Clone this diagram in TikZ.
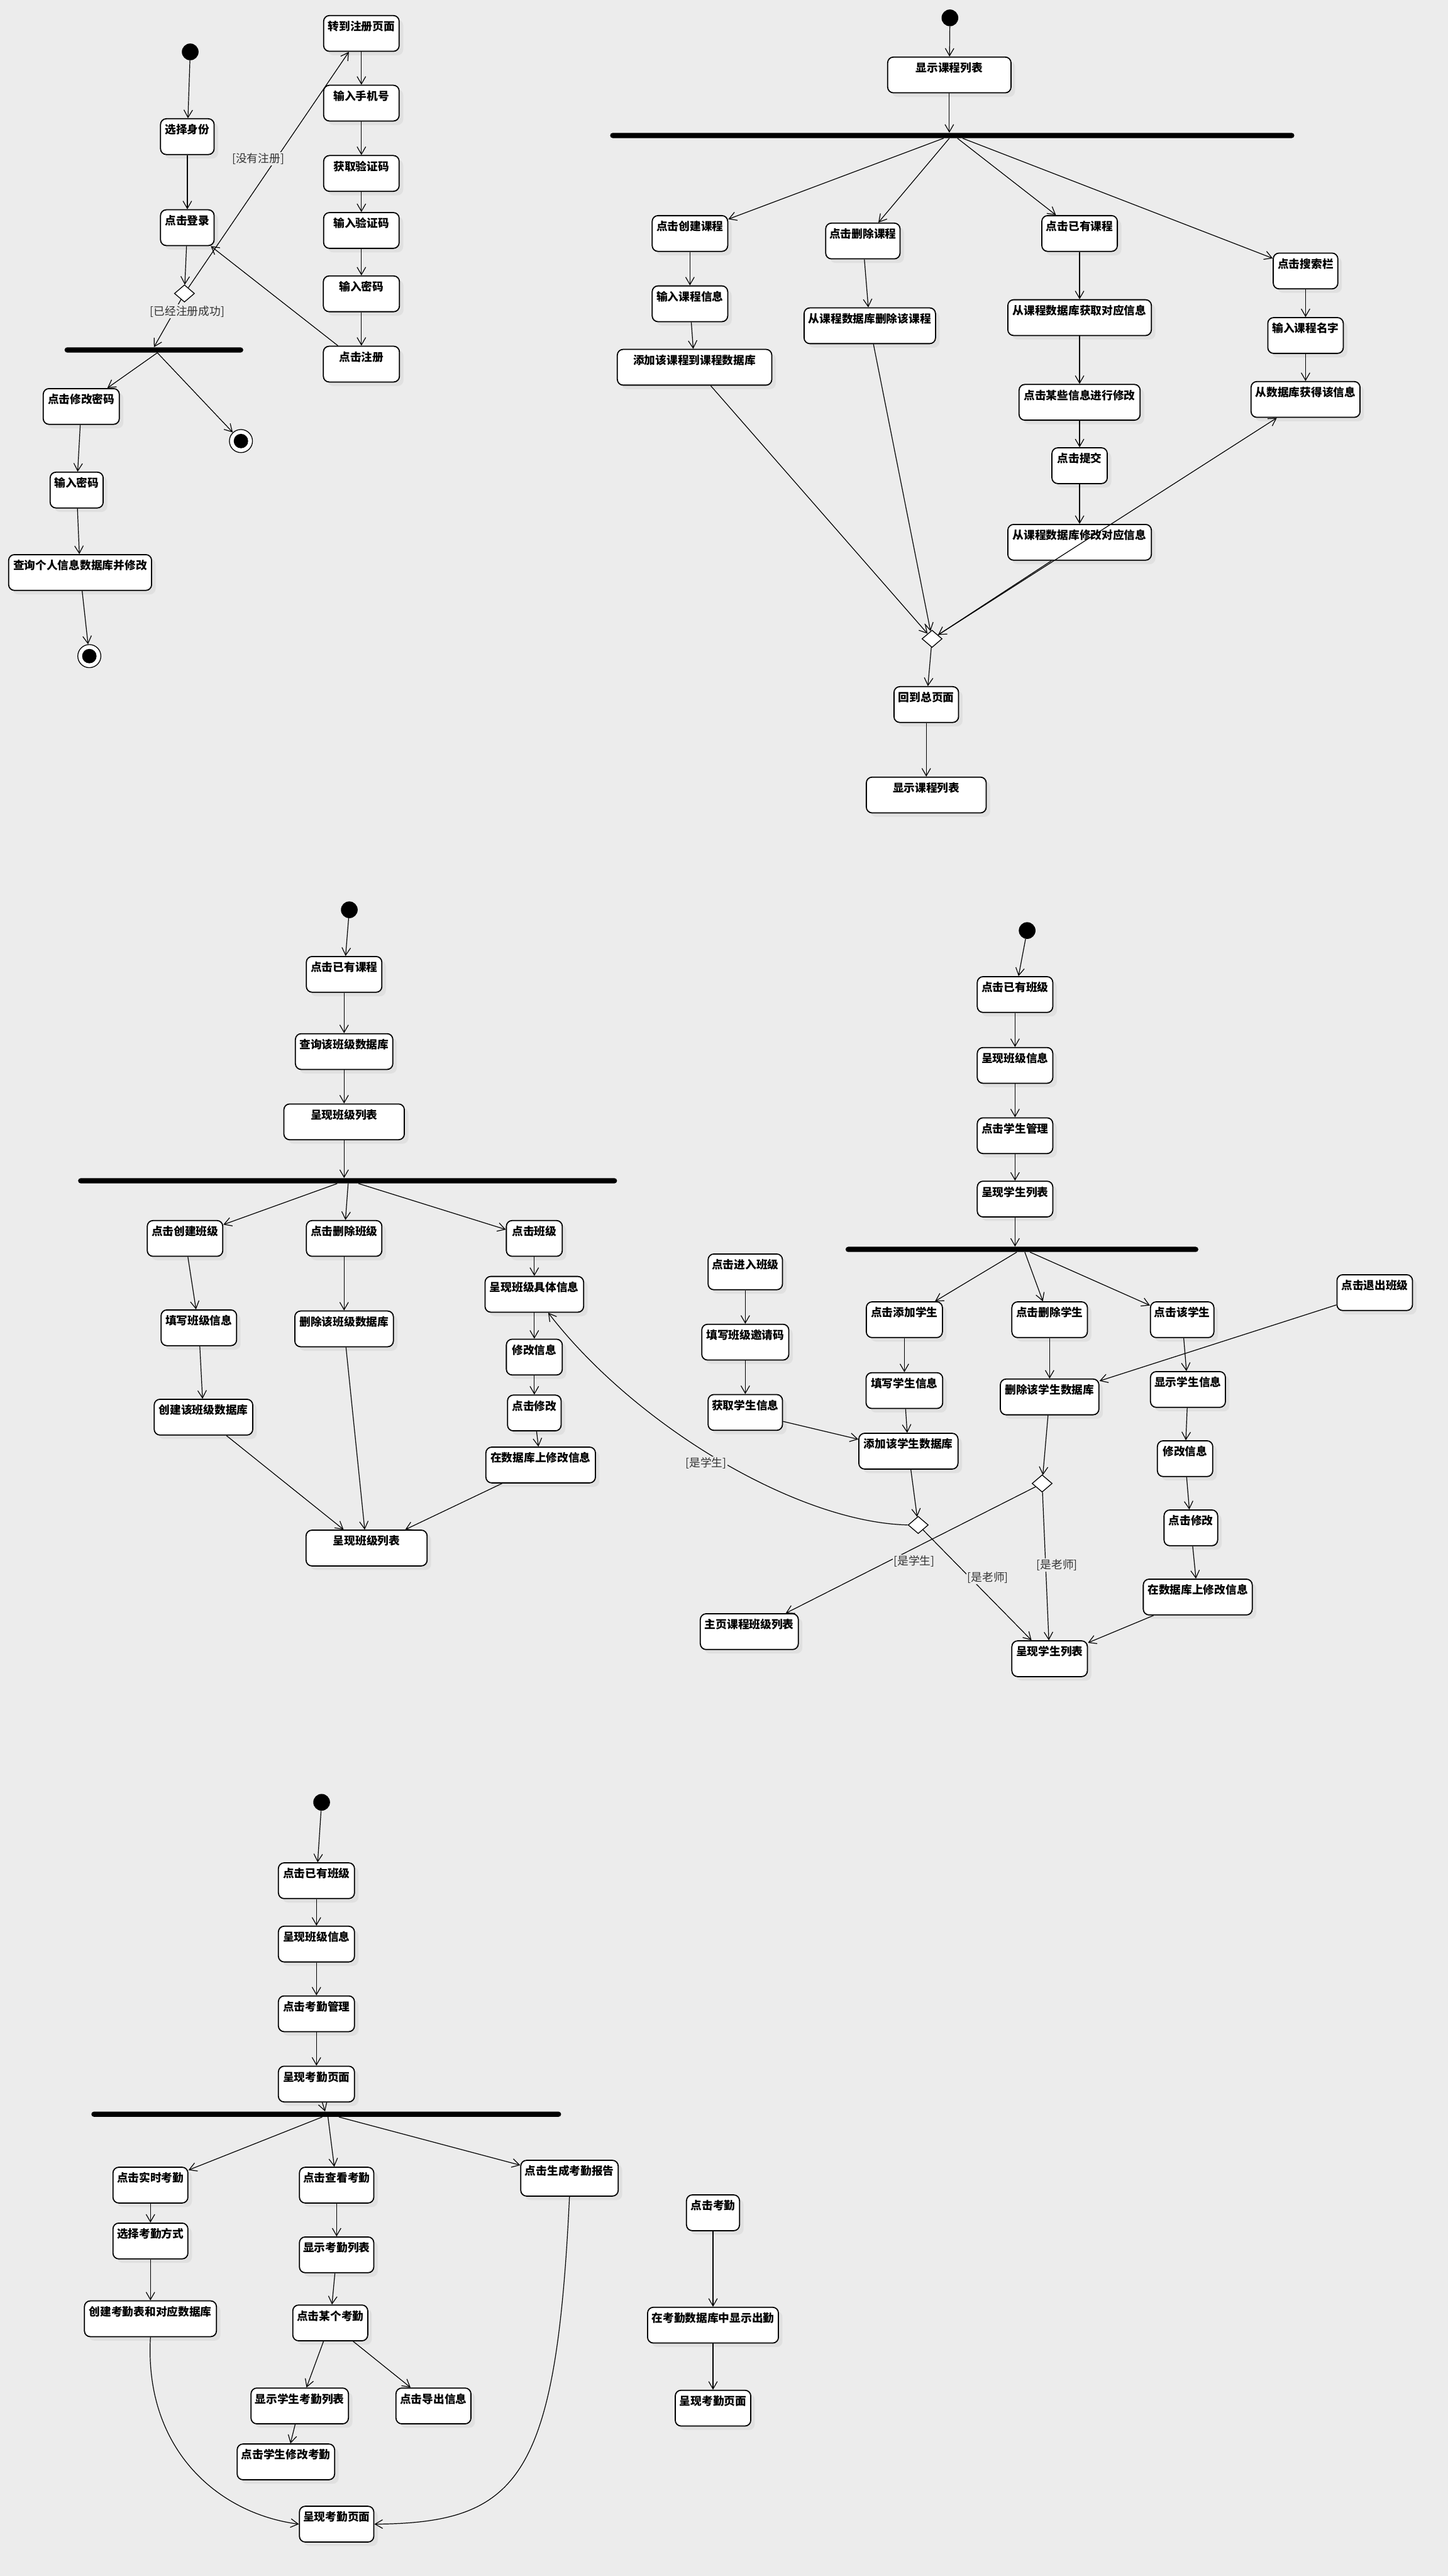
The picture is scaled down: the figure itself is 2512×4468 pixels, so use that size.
\documentclass[tikz,border=0pt]{standalone}
\usepackage{fontspec}
\setmainfont{Noto Sans CJK SC}
\usetikzlibrary{arrows.meta,positioning,shapes.geometric,calc,shadows}
\definecolor{bgcol}{RGB}{236,236,236}
\tikzset{
act/.style={draw,fill=white,rounded corners=0.2cm,line width=1.1pt,minimum height=1.24cm,inner xsep=0.12cm,inner ysep=0pt,text height=0.52cm,text depth=0.72cm,font=\fontsize{11}{13}\selectfont\bfseries,drop shadow={fill=black!12,shadow xshift=0.14cm,shadow yshift=-0.14cm,opacity=1}},
wd/.style={minimum width=#1*0.02cm},
arrow/.style={-{Straight Barb[length=0.26cm,width=0.3cm]},line width=0.75pt},
initst/.style={circle,fill=black,minimum size=0.58cm,inner sep=0pt},
finst/.style={circle,draw,line width=0.8pt,fill=white,minimum size=0.8cm,inner sep=0pt,path picture={\fill[black] (path picture bounding box.center) circle (0.25cm);}},
forkbar/.style={fill=black,rounded corners=0.09cm,minimum height=0.18cm,inner sep=0pt},
decn/.style={diamond,draw,fill=white,line width=0.8pt,minimum width=0.7cm,minimum height=0.6cm,inner sep=0pt},
guard/.style={fill=bgcol,inner sep=1pt,text=black!80,font=\fontsize{11}{13}\selectfont}
}
\begin{document}
\begin{tikzpicture}[x=0.02cm,y=-0.02cm]
\useasboundingbox (0,0) rectangle (2512,4468);
\fill[bgcol] (0,0) rectangle (2512,4468);
% login
\node[initst] (st1) at (330,90) {};
\node[act,wd=93] (d1a) at (325,237) {选择身份};
\node[act,wd=93,below=1.88cm of d1a] (d1b) {点击登录};
\node[decn] (dec1) at (320,509) {};
\node[forkbar,wd=310] (bar1) at (267,607) {};
\node[act,wd=132] (p1) at (141,705) {点击修改密码};
\node[finst] (fin1) at (418,765) {};
\node[act,wd=92] (p2) at (133,850) {输入密码};
\node[act,wd=248] (p3) at (139,993) {查询个人信息数据库并修改};
\node[finst] (fin2) at (155,1138) {};
\node[act,wd=131] (r1) at (627,58) {转到注册页面};
\node[act,wd=131,below=1.14cm of r1] (r2) {输入手机号};
\node[act,wd=131,below=1.16cm of r2] (r3) {获取验证码};
\node[act,wd=131,below=0.70cm of r3] (r4) {输入验证码};
\node[act,wd=132,below=0.92cm of r4] (r5) {输入密码};
\node[act,wd=132,below=1.16cm of r5] (r6) {点击注册};
\draw[arrow] (st1) -- (d1a);
\draw[arrow] (d1a) -- (d1b);
\draw[arrow] (d1b) -- (dec1);
\draw[arrow] (dec1) -- (bar1.north);
\draw[arrow] (dec1) -- (r1);
\draw[arrow] ($(bar1.south)+(6,0)$) -- (p1);
\draw[arrow] ($(bar1.south)+(6,0)$) -- (fin1);
\draw[arrow] (p1) -- (p2);
\draw[arrow] (p2) -- (p3);
\draw[arrow] (p3) -- (fin2);
\draw[arrow] (r1) -- (r2);
\draw[arrow] (r2) -- (r3);
\draw[arrow] (r3) -- (r4);
\draw[arrow] (r4) -- (r5);
\draw[arrow] (r5) -- (r6);
\draw[arrow] (r6) -- (d1b);
\node[guard] (g1) at (448,275) {[没有注册]};
\node[guard] (g2) at (325,540) {[已经注册成功]};
% courses
\node[initst] (st2) at (1648,31) {};
\node[act,wd=214] (c0) at (1647,130) {显示课程列表};
\node[forkbar,wd=1187] (bar2) at (1652,235) {};
\node[act,wd=131] (c1) at (1197,405) {点击创建课程};
\node[act,wd=131,below=1.16cm of c1] (c5) {输入课程信息};
\node[act,wd=268] (c9) at (1205,637) {添加该课程到课程数据库};
\node[act,wd=129] (c2) at (1497,418) {点击删除课程};
\node[act,wd=228] (c6) at (1509,565) {从课程数据库删除该课程};
\node[act,wd=131] (c3) at (1873,405) {点击已有课程};
\node[act,wd=249,below=1.64cm of c3] (c7) {从课程数据库获取对应信息};
\node[act,wd=210,below=1.66cm of c7] (c10) {点击某些信息进行修改};
\node[act,wd=96,below=0.92cm of c10] (c12) {点击提交};
\node[act,wd=249,below=1.38cm of c12] (c13) {从课程数据库修改对应信息};
\node[act,wd=112] (c4) at (2265,470) {点击搜索栏};
\node[act,wd=131,below=0.96cm of c4] (c8) {输入课程名字};
\node[act,wd=189,below=0.94cm of c8] (c11) {从数据库获得该信息};
\node[decn] (dec2) at (1617,1108) {};
\node[act,wd=112] (c14) at (1607,1222) {回到总页面};
\node[act,wd=208,below=1.86cm of c14] (c15) {显示课程列表};
\draw[arrow] (st2) -- (c0);
\draw[arrow] (c0) -- (c0 |- bar2.north);
\draw[arrow] ($(bar2.south)+(-15,0)$) -- (c1);
\draw[arrow] ($(bar2.south)+(-5,0)$) -- (c2);
\draw[arrow] ($(bar2.south)+(9,0)$) -- (c3);
\draw[arrow] ($(bar2.south)+(18,0)$) -- (c4);
\draw[arrow] (c1) -- (c5);
\draw[arrow] (c5) -- (c9);
\draw[arrow] (c2) -- (c6);
\draw[arrow] (c3) -- (c7);
\draw[arrow] (c7) -- (c10);
\draw[arrow] (c10) -- (c12);
\draw[arrow] (c12) -- (c13);
\draw[arrow] (c4) -- (c8);
\draw[arrow] (c8) -- (c11);
\draw[arrow] (c9) -- (dec2);
\draw[arrow] (c6) -- (dec2);
\draw[arrow] (c13) -- (dec2);
\draw[arrow] (dec2) -- (c11);
\draw[arrow] (dec2) -- (c14);
\draw[arrow] (c14) -- (c15);
% classes
\node[initst] (st3) at (606,1578) {};
\node[act,wd=131] (k1) at (597,1690) {点击已有课程};
\node[act,wd=169,below=1.40cm of k1] (k2) {查询该班级数据库};
\node[act,wd=209,below=1.16cm of k2] (k3) {呈现班级列表};
\node[forkbar,wd=935] (bar3) at (603,2048) {};
\node[act,wd=131] (k4) at (321,2148) {点击创建班级};
\node[act,wd=131] (k8) at (345,2303) {填写班级信息};
\node[act,wd=171] (k12) at (353,2458) {创建该班级数据库};
\node[act,wd=131] (k5) at (597,2148) {点击删除班级};
\node[act,wd=171,below=1.86cm of k5] (k9) {删除该班级数据库};
\node[act,wd=97] (k6) at (927,2148) {点击班级};
\node[act,wd=171,below=0.66cm of k6] (k7) {呈现班级具体信息};
\node[act,wd=97,below=0.90cm of k7] (k10) {修改信息};
\node[act,wd=93,below=0.66cm of k10] (k11) {点击修改};
\node[act,wd=190] (k13) at (938,2541) {在数据库上修改信息};
\node[act,wd=210] (k14) at (636,2685) {呈现班级列表};
\draw[arrow] (st3) -- (k1);
\draw[arrow] (k1) -- (k2);
\draw[arrow] (k2) -- (k3);
\draw[arrow] (k3) -- (k3 |- bar3.north);
\draw[arrow] ($(bar3.south)+(-18,0)$) -- (k4);
\draw[arrow] ($(bar3.south)+(1,0)$) -- (k5);
\draw[arrow] ($(bar3.south)+(19,0)$) -- (k6);
\draw[arrow] (k4) -- (k8);
\draw[arrow] (k8) -- (k12);
\draw[arrow] (k12) -- (k14);
\draw[arrow] (k5) -- (k9);
\draw[arrow] (k9) -- (k14);
\draw[arrow] (k6) -- (k7);
\draw[arrow] (k7) -- (k10);
\draw[arrow] (k10) -- (k11);
\draw[arrow] (k11) -- (k13);
\draw[arrow] (k13) -- (k14);
% students
\node[initst] (st4) at (1782,1614) {};
\node[act,wd=131] (s1) at (1761,1725) {点击已有班级};
\node[act,wd=131,below=1.18cm of s1] (s2) {呈现班级信息};
\node[act,wd=131,below=1.16cm of s2] (s3) {点击学生管理};
\node[act,wd=131,below=0.92cm of s3] (s4) {呈现学生列表};
\node[forkbar,wd=612] (bar4) at (1773,2167) {};
\node[act,wd=129] (s5) at (1293,2206) {点击进入班级};
\node[act,wd=151,below=1.16cm of s5] (s6) {填写班级邀请码};
\node[act,wd=129,below=1.16cm of s6] (s7) {获取学生信息};
\node[act,wd=132] (s8) at (1569,2289) {点击添加学生};
\node[act,wd=133,below=1.18cm of s8] (s12) {填写学生信息};
\node[act,wd=172] (s15) at (1576,2517) {添加该学生数据库};
\node[act,wd=131] (s9) at (1821,2289) {点击删除学生};
\node[act,wd=171,below=1.40cm of s9] (s13) {删除该学生数据库};
\node[act,wd=110] (s10) at (2051,2289) {点击该学生};
\node[act,wd=130] (s14) at (2061,2410) {显示学生信息};
\node[act,wd=96] (s16) at (2056,2530) {修改信息};
\node[act,wd=93] (s17) at (2066,2650) {点击修改};
\node[act,wd=189] (s18) at (2078,2770) {在数据库上修改信息};
\node[act,wd=131] (s11) at (2385,2242) {点击退出班级};
\node[decn] (dec4a) at (1593,2645) {};
\node[decn] (dec4b) at (1808,2573) {};
\node[act,wd=170] (s19) at (1300,2830) {主页课程班级列表};
\node[act,wd=131] (s20) at (1821,2877) {呈现学生列表};
\draw[arrow] (st4) -- (s1);
\draw[arrow] (s1) -- (s2);
\draw[arrow] (s2) -- (s3);
\draw[arrow] (s3) -- (s4);
\draw[arrow] (s4) -- (s4 |- bar4.north);
\draw[arrow] ($(bar4.south)+(-9,0)$) -- (s8);
\draw[arrow] ($(bar4.south)+(5,0)$) -- (s9);
\draw[arrow] ($(bar4.south)+(14,0)$) -- (s10);
\draw[arrow] (s5) -- (s6);
\draw[arrow] (s6) -- (s7);
\draw[arrow] (s7) -- (s15);
\draw[arrow] (s8) -- (s12);
\draw[arrow] (s12) -- (s15);
\draw[arrow] (s15) -- (dec4a);
\draw[arrow] (s9) -- (s13);
\draw[arrow] (s11) -- (s13);
\draw[arrow] (s13) -- (dec4b);
\draw[arrow] (s10) -- (s14);
\draw[arrow] (s14) -- (s16);
\draw[arrow] (s16) -- (s17);
\draw[arrow] (s17) -- (s18);
\draw[arrow] (s18) -- (s20);
\draw[arrow] (dec4a.west) .. controls (1380,2640) and (1100,2470) .. (k7.-53);
\draw[arrow] (dec4a) -- (s20);
\draw[arrow] (dec4b) -- (s19);
\draw[arrow] (dec4b) -- (s20);
\node[guard] (g3) at (1225,2538) {[是学生]};
\node[guard] (g4) at (1586,2708) {[是学生]};
\node[guard] (g5) at (1714,2736) {[是老师]};
\node[guard] (g6) at (1834,2714) {[是老师]};
% attendance
\node[initst] (st5) at (558,3126) {};
\node[act,wd=132] (a1) at (549,3262) {点击已有班级};
\node[act,wd=132,below=0.92cm of a1] (a2) {呈现班级信息};
\node[act,wd=132,below=1.14cm of a2] (a3) {点击考勤管理};
\node[act,wd=132,below=1.16cm of a3] (a4) {呈现考勤页面};
\node[forkbar,wd=815] (bar5) at (566,3667) {};
\node[act,wd=130] (a5) at (261,3790) {点击实时考勤};
\node[act,wd=130,below=0.66cm of a5] (a8) {选择考勤方式};
\node[act,wd=229,below=1.42cm of a8] (a10) {创建考勤表和对应数据库};
\node[act,wd=129] (a6) at (584,3790) {点击查看考勤};
\node[act,wd=129,below=1.14cm of a6] (a9) {显示考勤列表};
\node[act,wd=130] (a11) at (573,4029) {点击某个考勤};
\node[act,wd=169] (a12) at (520,4173) {显示学生考勤列表};
\node[act,wd=130] (a13) at (752,4173) {点击导出信息};
\node[act,wd=169] (a14) at (496,4270) {点击学生修改考勤};
\node[act,wd=129] (a15) at (584,4378) {呈现考勤页面};
\node[act,wd=169] (a7) at (988,3778) {点击生成考勤报告};
\node[act,wd=92] (a16) at (1237,3838) {点击考勤};
\node[act,wd=227,below=2.62cm of a16] (a17) {在考勤数据库中显示出勤};
\node[act,wd=131,below=1.60cm of a17] (a18) {呈现考勤页面};
\draw[arrow] (st5) -- (a1);
\draw[arrow] (a1) -- (a2);
\draw[arrow] (a2) -- (a3);
\draw[arrow] (a3) -- (a4);
\draw[arrow] (a4) -- ($(bar5.north)+(-2,0)$);
\draw[arrow] ($(bar5.south)+(-7,0)$) -- (a5);
\draw[arrow] ($(bar5.south)+(3,0)$) -- (a6);
\draw[arrow] ($(bar5.south)+(22,0)$) -- (a7);
\draw[arrow] (a5) -- (a8);
\draw[arrow] (a8) -- (a10);
\draw[arrow] (a6) -- (a9);
\draw[arrow] (a9) -- (a11);
\draw[arrow] (a11) -- (a12);
\draw[arrow] (a11) -- (a13);
\draw[arrow] (a12) -- (a14);
\draw[arrow] (a10.south) .. controls (250,4250) and (380,4360) .. (a15.west);
\draw[arrow] (a7.south) .. controls (965,4300) and (900,4376) .. (a15.east);
\draw[arrow] (a16) -- (a17);
\draw[arrow] (a17) -- (a18);
\end{tikzpicture}
\end{document}
